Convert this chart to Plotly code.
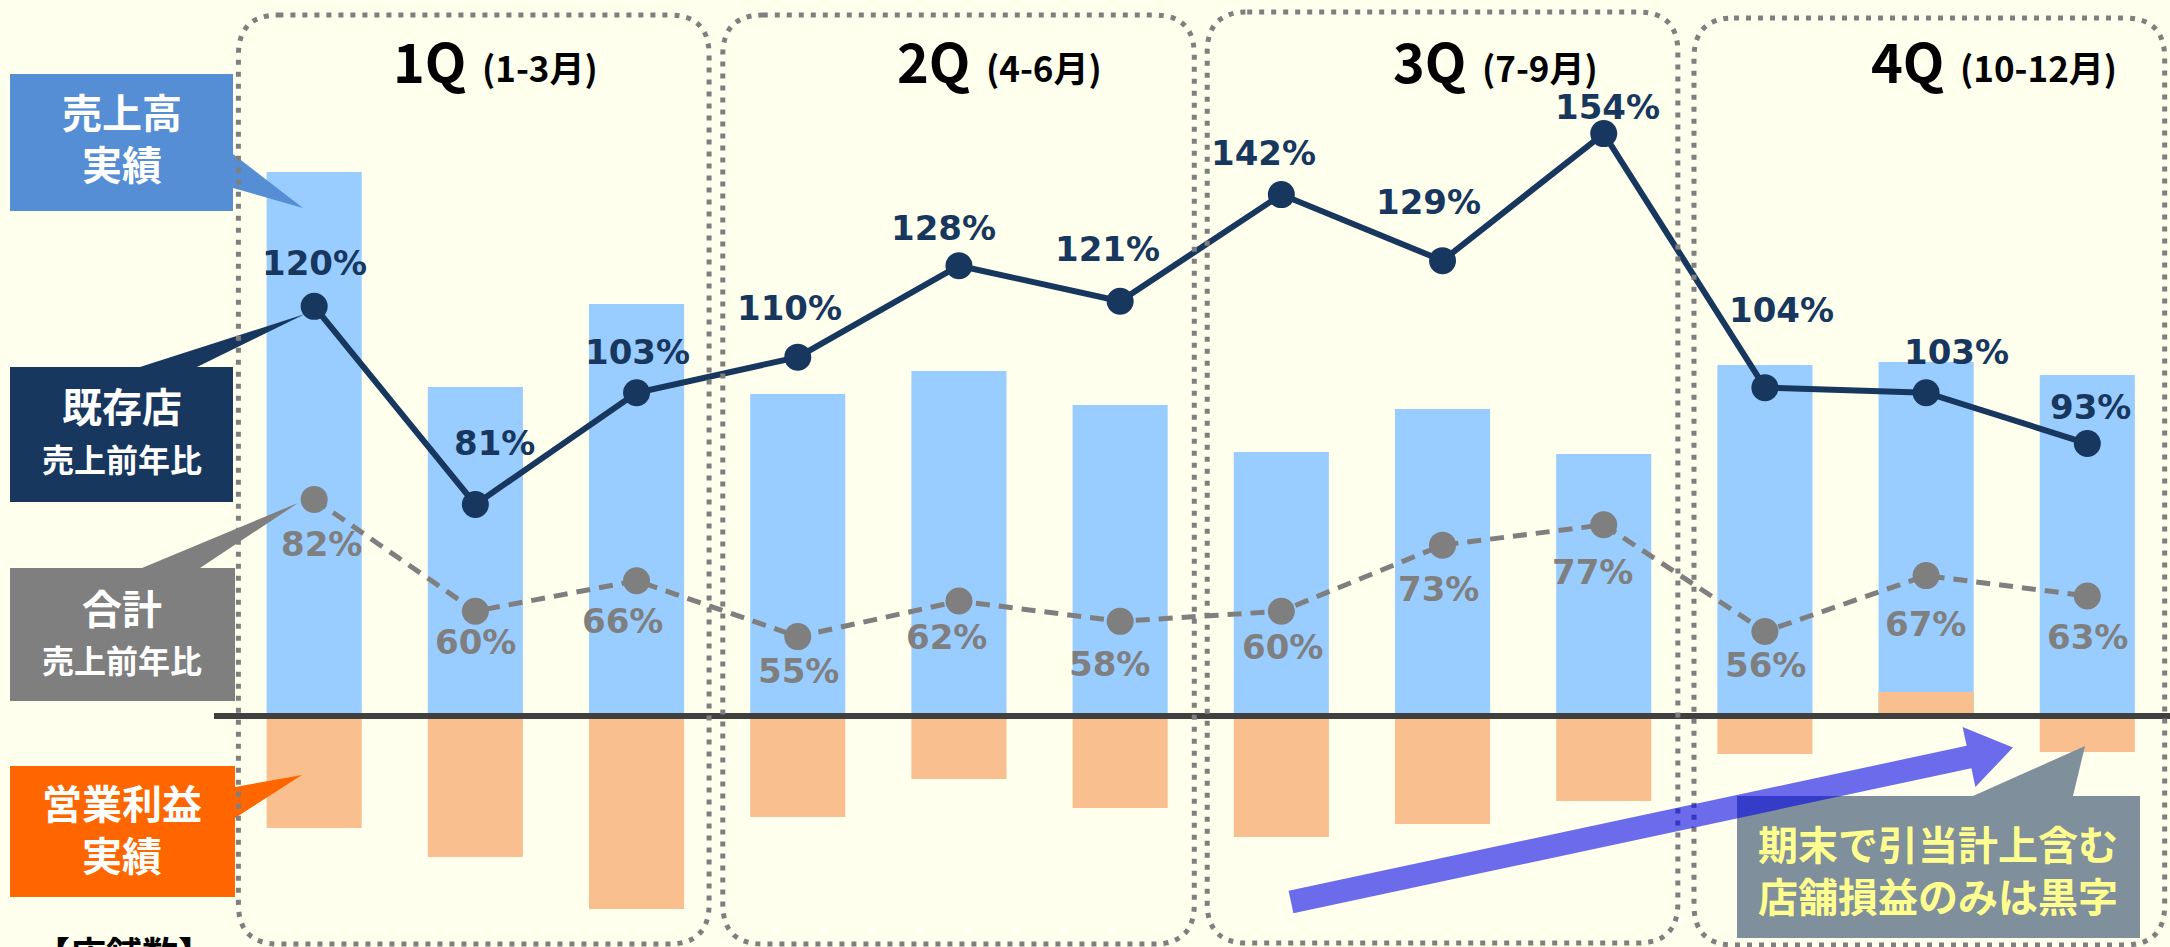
import plotly.graph_objects as go

# ---------------- data ----------------
months = list(range(12))
quarters = ["1Q", "2Q", "3Q", "4Q"]
quarter_months = ["(1-3月)", "(4-6月)", "(7-9月)", "(10-12月)"]

sales = [544, 329, 412, 322, 345, 311, 264, 307, 262, 351, 354, 341]          # 売上高実績 (relative)
op_profit = [-112, -141, -193, -101, -63, -92, -121, -108, -85, -38, 24, -36]  # 営業利益実績 (relative)
existing_yoy = [120, 81, 103, 110, 128, 121, 142, 129, 154, 104, 103, 93]     # 既存店 売上前年比 %
total_yoy = [82, 60, 66, 55, 62, 58, 60, 73, 77, 56, 67, 63]                  # 合計 売上前年比 %

# ---------------- styling ----------------
W, H = 2170, 947
BG = "#FFFFEE"
BLUE_BAR = "#99CCFF"
ORANGE_BAR = "#F9BF8F"
NAVY = "#17375E"
GRAY = "#7F7F7F"
JP = "Noto Sans CJK JP"
NUM = "DejaVu Sans"

# label offsets (pixels) for the percentage labels
navy_dy = [43, 61, 41, 49, 38, 52, 42, 59, 27, 78, 41, 37]
navy_dx = [0, 19, 1, -8, -15, -13, -18, -14, 4, 17, 30, 3]
gray_dy = [45, 31, 40, 34, 36, 43, 36, 44, 47, 33, 48, 41]
gray_dx = [7, 0, -14, 1, -12, -11, 1, -4, -11, 1, -1, 0]


def X(px):
    return px / W


def Y(py):
    return 1 - py / H


def ppath(points):
    return "M " + " L ".join(f"{X(a):.5f},{Y(b):.5f}" for a, b in points) + " Z"


fig = go.Figure()

fig.add_trace(go.Bar(x=months, y=sales, marker=dict(color=BLUE_BAR, line=dict(width=0)),
                     width=0.59, name="売上高実績"))
fig.add_trace(go.Bar(x=months, y=op_profit, marker=dict(color=ORANGE_BAR, line=dict(width=0)),
                     width=0.59, name="営業利益実績"))
fig.add_trace(go.Scatter(x=months, y=total_yoy, yaxis="y2", mode="lines+markers",
                         line=dict(color=GRAY, width=5, dash="14px,9px"),
                         marker=dict(size=27, color=GRAY), name="合計 売上前年比"))
fig.add_trace(go.Scatter(x=months, y=existing_yoy, yaxis="y2", mode="lines+markers",
                         line=dict(color=NAVY, width=6),
                         marker=dict(size=27, color=NAVY), name="既存店 売上前年比"))

annotations = []
for i, v in enumerate(existing_yoy):
    annotations.append(dict(x=months[i], y=v, xref="x", yref="y2", text=f"<b>{v}%</b>",
                            showarrow=False, yshift=navy_dy[i], xshift=navy_dx[i],
                            font=dict(family=NUM, size=34, color=NAVY)))
for i, v in enumerate(total_yoy):
    annotations.append(dict(x=months[i], y=v, xref="x", yref="y2", text=f"<b>{v}%</b>",
                            showarrow=False, yshift=-gray_dy[i], xshift=gray_dx[i],
                            font=dict(family=NUM, size=34, color=GRAY)))

shapes = []

# left side callouts
callouts = [
    ([(10, 74), (233, 74), (233, 154), (303, 208), (233, 188), (233, 211), (10, 211)], "#558ED5"),
    ([(10, 367), (140, 367), (305, 314), (197, 367), (233, 367), (233, 502), (10, 502)], NAVY),
    ([(10, 568), (142, 568), (298, 503), (200, 568), (235, 568), (235, 701), (10, 701)], GRAY),
    ([(10, 766), (235, 766), (235, 787), (302, 775), (235, 818), (235, 897), (10, 897)], "#FF6600"),
]
for pts, col in callouts:
    shapes.append(dict(type="path", xref="paper", yref="paper", path=ppath(pts),
                       fillcolor=col, line=dict(width=0), layer="above"))

# zero baseline
shapes.append(dict(type="line", xref="paper", yref="y", x0=X(214), x1=1, y0=0, y1=0,
                   line=dict(color="#404040", width=6), layer="above"))

# quarter dotted rounded boxes
tops = [15, 15, 12, 18]
bots = [944, 944, 943, 945]
lefts = [-0.47, -0.465, -0.46, -0.44]
rights = [2.45, 2.46, 2.46, 2.48]
rx, ry = 40 / 161.2, 40 / H
for q in range(4):
    x0, x1 = 3 * q + lefts[q], 3 * q + rights[q]
    yt, yb = Y(tops[q]), Y(bots[q])
    p = (f"M {x0+rx},{yt} L {x1-rx},{yt} Q {x1},{yt} {x1},{yt-ry} L {x1},{yb+ry} "
         f"Q {x1},{yb} {x1-rx},{yb} L {x0+rx},{yb} Q {x0},{yb} {x0},{yb+ry} "
         f"L {x0},{yt-ry} Q {x0},{yt} {x0+rx},{yt} Z")
    shapes.append(dict(type="path", xref="x", yref="paper", path=p,
                       line=dict(color=GRAY, width=5, dash="5px,7px"), layer="above"))

# bottom-right gray callout
shapes.append(dict(type="path", xref="paper", yref="paper",
                   path=ppath([(1737, 796), (1973, 796), (2085, 746), (2073, 796), (2140, 796),
                               (2140, 938), (1737, 938)]),
                   fillcolor="#7F8F9B", line=dict(width=0), layer="above"))

# blue arrow
shapes.append(dict(type="path", xref="paper", yref="paper",
                   path=ppath([(1288.6, 890.8), (1966.6, 745.8), (1962.6, 727.1), (2013, 747.5),
                               (1975.4, 786.9), (1971.4, 768.2), (1293.4, 913.2)]),
                   fillcolor="rgba(0,0,235,0.58)", line=dict(width=0), layer="above"))

# quarter labels
q_split = [468, 972, 1468, 1946]
for q in range(4):
    annotations.append(dict(x=X(q_split[q]), y=Y(60), xref="paper", yref="paper",
                            text=f"<b>{quarters[q]}</b>", showarrow=False, xanchor="right",
                            yanchor="middle", font=dict(family=JP, size=54, color="black")))
    annotations.append(dict(x=X(q_split[q] + 12), y=Y(66), xref="paper", yref="paper",
                            text=f"<b>{quarter_months[q]}</b>", showarrow=False, xanchor="left",
                            yanchor="middle", font=dict(family=JP, size=35, color="black")))

# left callout texts
left_texts = [
    ("売上高<br>実績", 137, 40),
    ("既存店", 405, 40), ("売上前年比", 458, 32),
    ("合計", 607, 40), ("売上前年比", 659, 32),
    ("営業利益<br>実績", 828, 40),
]
for t, yy, sz in left_texts:
    annotations.append(dict(x=X(122), y=Y(yy), xref="paper", yref="paper", text=f"<b>{t}</b>",
                            showarrow=False, xanchor="center", yanchor="middle",
                            font=dict(family=JP, size=sz, color="white")))

annotations.append(dict(x=X(124), y=Y(952), xref="paper", yref="paper", text="<b>【店舗数】</b>",
                        showarrow=False, xanchor="center", yanchor="middle",
                        font=dict(family=JP, size=36, color="black")))

annotations.append(dict(x=X(1938), y=Y(869), xref="paper", yref="paper",
                        text="<b>期末で引当計上含む<br>店舗損益のみは黒字</b>",
                        showarrow=False, xanchor="center", yanchor="middle",
                        font=dict(family=JP, size=40, color="#FFFF8F")))

fig.update_layout(
    width=W, height=H,
    margin=dict(l=0, r=0, t=0, b=0),
    paper_bgcolor=BG, plot_bgcolor=BG,
    barmode="overlay", showlegend=False,
    xaxis=dict(range=[-1.949, 11.513], visible=False, domain=[0, 1]),
    yaxis=dict(range=[-231, 716], visible=False, domain=[0, 1]),
    yaxis2=dict(range=[-6.1, 180.3], visible=False, overlaying="y"),
    shapes=shapes, annotations=annotations,
)

fig.write_html("out.html", config={"displayModeBar": False},
               post_script="document.body.style.margin='0';document.body.style.overflow='hidden';")
